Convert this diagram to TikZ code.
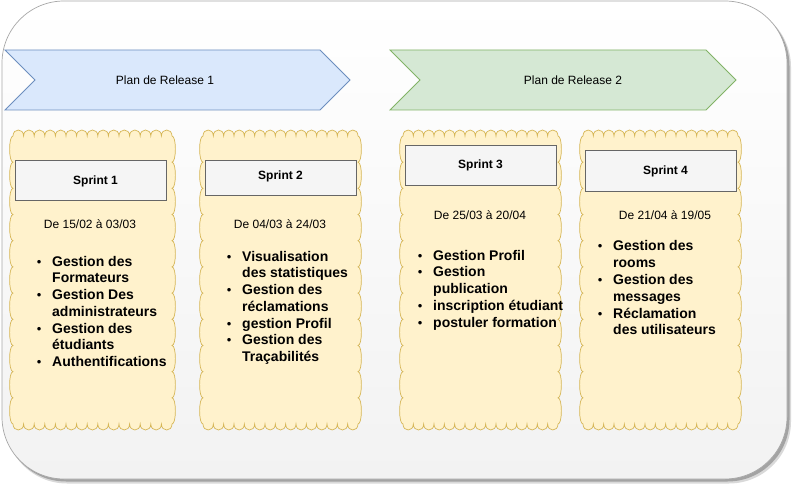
\documentclass[tikz,border=0pt]{standalone}
\usepackage{fontspec}
\setmainfont{Liberation Sans}
\definecolor{blueF}{HTML}{DAE8FC}\definecolor{blueD}{HTML}{6C8EBF}
\definecolor{greenF}{HTML}{D5E8D4}\definecolor{greenD}{HTML}{82B366}
\definecolor{yelF}{HTML}{FFF2CC}\definecolor{yelD}{HTML}{D6B656}
\definecolor{grayF}{HTML}{F5F5F5}\definecolor{grayD}{HTML}{666666}
\definecolor{bgB}{HTML}{F2F2F2}\definecolor{bgD}{HTML}{A8A8A8}
\tikzset{
  lbl/.style={inner sep=0pt, text height=8.6pt, text depth=0pt, font=\fontsize{12}{14}\selectfont},
  sprintlbl/.style={lbl, font=\bfseries\fontsize{12}{14}\selectfont},
  itm/.style={inner sep=0pt, text height=10pt, text depth=0pt, anchor=west, font=\bfseries\fontsize{14}{16.8}\selectfont},
  sprintbox/.style={draw=grayD, fill=grayF, line width=0.8pt},
  tapestyle/.style={draw=yelD, fill=yelF, line width=0.7pt},
  steparrow/.style={line width=0.8pt},
}
\newcommand\bul{\llap{\mdseries\fontsize{13}{16}\selectfont\textbullet\hspace{10.7pt}}}
\newcommand\tapeshape[4]{%
  \pgfmathsetmacro\tw{(#3-#1)/15}%
  \pgfmathsetmacro\th{(#4-#2)/11}%
  \filldraw[tapestyle] (#1,#2)
    \foreach \i in {1,...,15}{ .. controls +(0,-8) and +(0,-8) .. ++(\tw,0) }
    \foreach \i in {1,...,11}{ .. controls +(4.5,0) and +(4.5,0) .. ++(0,\th) }
    \foreach \i in {1,...,15}{ .. controls +(0,8) and +(0,8) .. ++(-\tw,0) }
    \foreach \i in {1,...,11}{ .. controls +(-4.5,0) and +(-4.5,0) .. ++(0,-\th) }
    -- cycle;}
\newcommand\itemlist[4]{%
  \foreach \t [count=\k] in {#4}
    \node[itm, name=#1\k] at (#2, {#3+(\k-1)*16.75}) {\t};}
\begin{document}
\begin{tikzpicture}[x=1pt,y=-1pt]
\useasboundingbox (0,0) rectangle (793,484);
% background panel with shadow
\fill[black, opacity=0.15, rounded corners=62] (5,5) rectangle (791,483.5);
\fill[black, opacity=0.25, rounded corners=62] (4,4) rectangle (789.5,481.5);
\shade[top color=white, bottom color=bgB, draw=bgD, line width=0.7pt, rounded corners=62] (2,1) rectangle (787,479);
% release arrows
\filldraw[steparrow, fill=blueF, draw=blueD] (5,50) -- (320,50) -- (350,80) -- (320,110) -- (5,110) -- (35,80) -- cycle;
\node[lbl, name=rel1] at (165,80) {Plan de Release 1};
\filldraw[steparrow, fill=greenF, draw=greenD] (390,50) -- (706,50) -- (736,80) -- (706,110) -- (390,110) -- (420,80) -- cycle;
\node[lbl, name=rel2] at (573,80) {Plan de Release 2};
% tapes
\tapeshape{13}{136}{172}{424}
\tapeshape{203}{136}{358}{424}
\tapeshape{403}{136}{558}{424}
\tapeshape{583}{136}{738}{424}
% sprint boxes
\draw[sprintbox] (15,160) rectangle (166,200);
\node[sprintlbl, name=s1] at (95.5,180) {Sprint 1};
\draw[sprintbox] (205,160) rectangle (356,195);
\node[sprintlbl, name=s2] at (280.5,175) {Sprint 2};
\draw[sprintbox] (405,145) rectangle (556,185);
\node[sprintlbl, name=s3] at (480.5,164) {Sprint 3};
\draw[sprintbox] (585,150) rectangle (736,191);
\node[sprintlbl, name=s4] at (665.5,170) {Sprint 4};
% dates
\node[lbl, name=d1] at (90,224) {De 15/02 à 03/03};
\node[lbl, name=d2] at (280,224) {De 04/03 à 24/03};
\node[lbl, name=d3] at (480,215) {De 25/03 à 20/04};
\node[lbl, name=d4] at (665,215) {De 21/04 à 19/05};
% lists
\itemlist{la}{52}{261}{\bul Gestion des, Formateurs, \bul Gestion Des, administrateurs, \bul Gestion des, étudiants, \bul Authentifications}
\itemlist{lb}{242}{256}{\bul Visualisation, des statistiques, \bul Gestion des, réclamations, \bul gestion Profil, \bul Gestion des, Traçabilités}
\itemlist{lc}{433}{255}{\bul Gestion Profil, \bul Gestion, publication, \bul inscription étudiant, \bul postuler formation}
\itemlist{ld}{613}{246}{\bul Gestion des, rooms, \bul Gestion des, messages, \bul Réclamation, des utilisateurs}
\end{tikzpicture}
\end{document}
